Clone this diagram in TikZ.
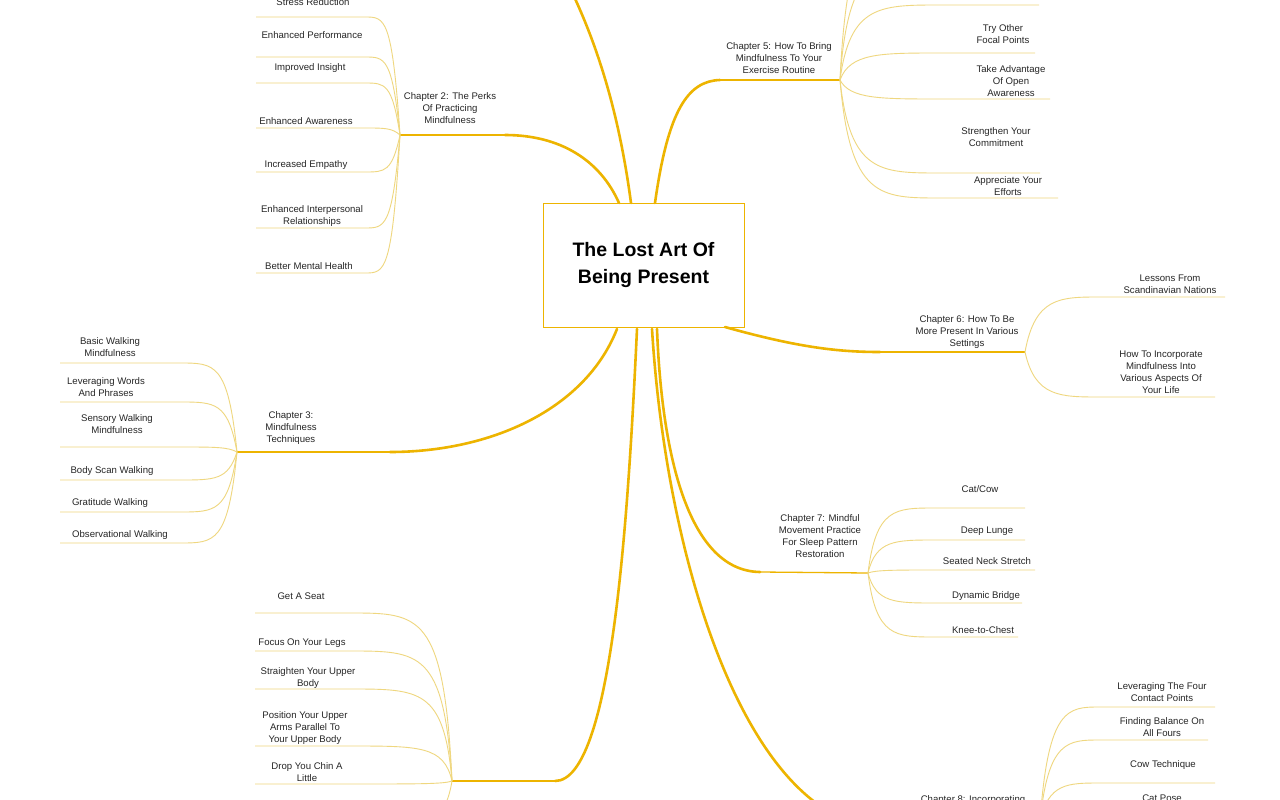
\documentclass[tikz,border=0pt]{standalone}
\usepackage{fontspec}
\setmainfont{Liberation Sans}
\begin{document}
\begin{tikzpicture}[x=1pt,y=-1pt,
  main/.style={draw=mainc,line width=2.6pt,line cap=round},
  mid/.style={draw=mainc,line width=1.3pt},
  sub/.style={draw=subc,line width=0.9pt},
  lbl/.style={align=center,font=\fontsize{9.6}{12}\selectfont,text=black!85,inner sep=0pt},
  chap/.style={lbl}]
\definecolor{mainc}{HTML}{EDB400}
\definecolor{subc}{HTML}{EFD77F}
\useasboundingbox (0,0) rectangle (1280,800);
\fill[white] (0,0) rectangle (1280,800);
\clip (0,0) rectangle (1280,800);
% hubs
\coordinate (h2) at (400,135);
\coordinate (h5) at (840,80);
\coordinate (h6) at (1025,352);
\coordinate (h3) at (237,452);
\coordinate (h7) at (868,573);
\coordinate (h4) at (452,781);
\coordinate (h8) at (1040,822);
\coordinate (h1) at (570,-12);
% root
\node[draw=mainc,line width=0.9pt,fill=white,minimum width=201pt,minimum height=124pt,align=center,
  font=\fontsize{19.5}{27}\selectfont\bfseries,inner sep=0pt] (root) at (643.5,265) {The Lost Art Of\\Being Present};
% main branches
\coordinate (r1) at (631,203); \coordinate (r2) at (619,203); \coordinate (r5) at (655,203);
\coordinate (r6) at (725,327); \coordinate (r3) at (617,329); \coordinate (r7) at (657,329);
\coordinate (r4) at (637,329); \coordinate (r8) at (652,329);
\draw[main] (r1) .. controls (620,120) and (600,50) .. (h1);
\draw[main] (r2) .. controls (600,160) and (560,135) .. (505,135);
\draw[mid] (505,135) -- (h2);
\draw[main] (r5) .. controls (668,110) and (688,81) .. (720,80);
\draw[mid] (720,80) -- (h5);
\draw[main] (r6) .. controls (800,348) and (840,352) .. (880,352);
\draw[mid] (880,352) -- (h6);
\draw[main] (r3) .. controls (585,410) and (490,452) .. (390,452);
\draw[mid] (390,452) -- (h3);
\draw[main] (r7) .. controls (662,460) and (690,571) .. (760,572);
\draw[mid] (760,572) -- (h7);
\draw[main] (r4) .. controls (628,520) and (612,781) .. (555,781);
\draw[mid] (555,781) -- (h4);
\draw[main] (r8) .. controls (665,540) and (730,760) .. (835,815);
% chapter labels
\node[chap] (c2) at (450,108) {Chapter 2: The Perks\\Of Practicing\\Mindfulness};
\node[chap] (c5) at (779,58) {Chapter 5: How To Bring\\Mindfulness To Your\\Exercise Routine};
\node[chap] (c6) at (967,332) {Chapter 6: How To Be\\More Present In Various\\Settings};
\node[chap] (c3) at (291,428) {Chapter 3:\\Mindfulness\\Techniques};
\node[chap] (c7) at (820,536) {Chapter 7: Mindful\\Movement Practice\\For Sleep Pattern\\Restoration};
\node[chap,anchor=north] (c8) at (973,795) {Chapter 8: Incorporating};
% chapter 2 children (left)
\foreach \cx/\cy/\ly/\t [count=\k] in {313/2/17/{Stress Reduction},312/35/57/{Enhanced Performance},310/68/83/{Improved Insight},306/121/128/{Enhanced Awareness},306/165/172/{Increased Empathy},312/216/228/{Enhanced Interpersonal\\Relationships},309/266/273/{Better Mental Health}}{
  \node[lbl] (a\k) at (\cx,\cy) {\t};
  \draw[sub] (h2) .. controls (392,\ly) and (385,\ly) .. (365,\ly) -- (256,\ly);
}
% chapter 5 children (right)
\foreach \ly/\ce in {-90/1040,-40/1040}{
  \draw[sub] (h5) .. controls (848,\ly) and (880,\ly) .. (940,\ly) -- (\ce,\ly);
}
\foreach \cx/\cy/\ly/\ce/\t [count=\k] in {1003/34/53/1035/{Try Other\\Focal Points},1011/81/99/1050/{Take Advantage\\Of Open\\Awareness},996/137/173/1040/{Strengthen Your\\Commitment},1008/186/198/1058/{Appreciate Your\\Efforts}}{
  \node[lbl] (b\k) at (\cx,\cy) {\t};
  \draw[sub] (h5) .. controls (850,\ly) and (880,\ly) .. (940,\ly) -- (\ce,\ly);
}
\draw[sub] (h5) .. controls (850,5) and (880,5) .. (940,5) -- (1039,5);
% chapter 6 children
\foreach \cx/\cy/\ly/\ce/\t [count=\k] in {1170/284/297/1225/{Lessons From\\Scandinavian Nations},1161/372/397/1215/{How To Incorporate\\Mindfulness Into\\Various Aspects Of\\Your Life}}{
  \node[lbl] (e\k) at (\cx,\cy) {\t};
  \draw[sub] (h6) .. controls (1035,\ly) and (1060,\ly) .. (1100,\ly) -- (\ce,\ly);
}
% chapter 3 children (left)
\foreach \cx/\cy/\ly/\t [count=\k] in {110/347/363/{Basic Walking\\Mindfulness},106/387/402/{Leveraging Words\\And Phrases},117/424/447/{Sensory Walking\\Mindfulness},112/471/480/{Body Scan Walking},110/503/512/{Gratitude Walking},120/535/543/{Observational Walking}}{
  \node[lbl] (d\k) at (\cx,\cy) {\t};
  \draw[sub] (h3) .. controls (228,\ly) and (215,\ly) .. (180,\ly) -- (60,\ly);
}
% chapter 7 children
\foreach \cx/\cy/\ly/\ce/\t [count=\k] in {980/489/508/1025/{Cat/Cow},987/531/540/1025/{Deep Lunge},987/561/570/1035/{Seated Neck Stretch},986/596/603/1022/{Dynamic Bridge},983/630/637/1018/{Knee-to-Chest}}{
  \node[lbl] (f\k) at (\cx,\cy) {\t};
  \draw[sub] (h7) .. controls (876,\ly) and (895,\ly) .. (935,\ly) -- (\ce,\ly);
}
% chapter 4 children (left)
\foreach \cx/\cy/\ly/\t [count=\k] in {301/596/613/{Get A Seat},302/643/651/{Focus On Your Legs},308/678/689/{Straighten Your Upper\\Body},305/728/746/{Position Your Upper\\Arms Parallel To\\Your Upper Body},307/772/784/{Drop You Chin A\\Little}}{
  \node[lbl] (g\k) at (\cx,\cy) {\t};
  \draw[sub] (h4) .. controls (444,\ly) and (420,\ly) .. (350,\ly) -- (255,\ly);
}
\draw[sub] (h4) .. controls (444,830) and (420,830) .. (350,830) -- (255,830);
% chapter 8 children
\foreach \cx/\cy/\ly/\ce/\t [count=\k] in {1162/692/707/1215/{Leveraging The Four\\Contact Points},1162/727/740/1208/{Finding Balance On\\All Fours},1163/765/783/1215/{Cow Technique}}{
  \node[lbl] (k\k) at (\cx,\cy) {\t};
  \draw[sub] (h8) .. controls (1048,\ly) and (1068,\ly) .. (1100,\ly) -- (\ce,\ly);
}
\node[lbl,anchor=north] (k4) at (1162,795) {Cat Pose};
\end{tikzpicture}
\end{document}
